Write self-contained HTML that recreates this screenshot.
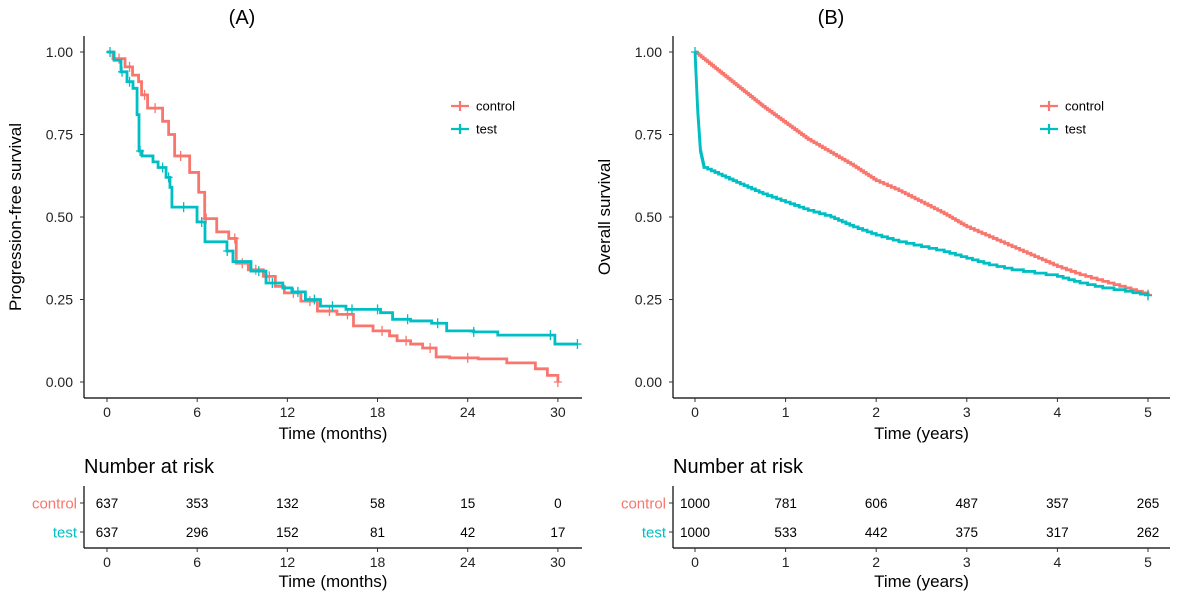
<!DOCTYPE html>
<html><head><meta charset="utf-8"><style>
body{margin:0;background:#fff;font-family:"Liberation Sans",sans-serif}
svg text{font-family:"Liberation Sans",sans-serif}
</style></head><body>
<svg id="c" width="1178" height="600" xmlns="http://www.w3.org/2000/svg"></svg>
<script>
const ctrlA_t=[0,0.4,1.2,1.7,2.1,2.3,2.7,3.7,4.1,4.5,5.5,6.1,6.5,7.3,8.1,8.6,9.4,10.4,11.2,11.8,12.9,14.0,15.3,16.4,17.7,18.8,19.3,20.2,21.0,21.9,22.8,24.7,26.6,28.5,29.3,30.0];
const ctrlA_s=[1,0.98,0.955,0.93,0.91,0.87,0.83,0.79,0.75,0.685,0.635,0.575,0.495,0.455,0.435,0.36,0.34,0.32,0.29,0.27,0.245,0.215,0.205,0.17,0.155,0.14,0.125,0.115,0.103,0.076,0.073,0.07,0.058,0.04,0.02,0.0];
const testA_t=[0,0.47,0.93,1.33,1.73,2.0,2.13,2.33,3.06,3.4,3.93,4.19,4.32,5.99,6.52,7.98,8.38,9.58,10.58,11.7,12.3,13.2,14.2,15.9,18.2,19.0,20.2,21.6,22.6,24.4,26.0,29.8];
const testA_s=[1,0.975,0.94,0.91,0.89,0.81,0.70,0.685,0.667,0.65,0.62,0.59,0.53,0.485,0.425,0.397,0.365,0.336,0.3,0.285,0.273,0.25,0.23,0.22,0.21,0.19,0.185,0.178,0.155,0.152,0.142,0.115];
const testA_end=31.3;
const ctrlA_cens=[0.8,1.5,2.5,3.2,4.9,6.6,8.5,9.0,9.9,10.8,12.4,13.5,14.8,16.0,18.3,19.9,21.5,24.0,30.0];
const testA_cens=[0.2,1.0,1.5,2.2,3.7,4.1,5.1,6.3,8.0,10.1,11.0,12.7,13.8,15.0,16.3,18.0,20.0,22.0,24.4,29.5,31.3];
const ctrlB_t=[0,0.25,0.5,0.75,1,1.25,1.5,1.75,2,2.25,2.5,2.75,3,3.25,3.5,3.75,4,4.25,4.5,4.75,5];
const ctrlB_s=[1,0.945,0.89,0.835,0.785,0.735,0.695,0.655,0.61,0.58,0.545,0.51,0.47,0.44,0.41,0.38,0.35,0.325,0.305,0.285,0.265];
const testB_t=[0,0.03,0.06,0.1,0.3,0.5,0.75,1,1.25,1.5,1.75,2,2.25,2.5,2.75,3,3.25,3.5,3.75,4,4.25,4.5,4.75,5];
const testB_s=[1,0.82,0.7,0.65,0.625,0.6,0.57,0.545,0.52,0.5,0.47,0.445,0.425,0.41,0.395,0.375,0.355,0.34,0.33,0.32,0.3,0.285,0.275,0.262];
const riskA_times=[0,6,12,18,24,30];
const riskA_ctrl=[637,353,132,58,15,0];
const riskA_test=[637,296,152,81,42,17];
const riskB_times=[0,1,2,3,4,5];
const riskB_ctrl=[1000,781,606,487,357,265];
const riskB_test=[1000,533,442,375,317,262];
const yTicks=[0,0.25,0.5,0.75,1];
const yTickLabels=["0.00","0.25","0.50","0.75","1.00"];

const RED="#F8766D",CY="#00BFC4";
const svg=document.getElementById('c');
function el(tag,attrs,txt){const e=document.createElementNS("http://www.w3.org/2000/svg",tag);for(const k in attrs)e.setAttribute(k,attrs[k]);if(txt!==undefined)e.textContent=txt;svg.appendChild(e);return e;}
const ys=v=>382-330*v;

function panel(p){
  const xs=v=>p.x0+v*p.k;
  let e;
  e=el('text',{x:p.titleX,y:24,'font-size':20,'text-anchor':'middle'},p.title);
  
  e=el('line',{x1:p.ax,y1:36,x2:p.ax,y2:398,stroke:'#000','stroke-width':1.2});
  
  e=el('line',{x1:p.ax,y1:398,x2:p.ax2,y2:398,stroke:'#000','stroke-width':1.2});
  
  yTicks.forEach((v,i)=>{
    el('line',{x1:p.ax-4,x2:p.ax,y1:ys(v),y2:ys(v),stroke:'#333'});
    e=el('text',{x:p.ax-11,y:ys(v)+5,'font-size':14,'text-anchor':'end',fill:'#222'},yTickLabels[i]);
    
  });
  p.ticks.forEach(v=>{
    el('line',{x1:xs(v),x2:xs(v),y1:398,y2:402,stroke:'#333'});
    e=el('text',{x:xs(v),y:417,'font-size':14,'text-anchor':'middle',fill:'#222'},String(v));
    
  });
  e=el('text',{x:(p.ax+p.ax2)/2,y:439,'font-size':17,'text-anchor':'middle'},p.xlab);
  
  e=el('text',{x:0,y:0,'font-size':17,'text-anchor':'middle',transform:`translate(${p.ylabX},217) rotate(-90)`},p.ylab);
  
  p.series.forEach(s=>{
    let d=`M${xs(s.t[0])},${ys(s.s[0])}`;
    if(s.step){
      for(let i=1;i<s.t.length;i++)d+=`H${xs(s.t[i])}V${ys(s.s[i])}`;
      if(s.end)d+=`H${xs(s.end)}`;
    }else{
      // fine jagged steps between readings
      for(let i=1;i<s.t.length;i++){
        const n=Math.max(1,Math.round((s.s[i-1]-s.s[i])/0.005));
        for(let j=1;j<=n;j++){
          const t=s.t[i-1]+(s.t[i]-s.t[i-1])*j/n, v=s.s[i-1]+(s.s[i]-s.s[i-1])*j/n;
          d+=`H${xs(t)}V${ys(v)}`;
        }
      }
    }
    e=el('path',{d,fill:'none',stroke:s.col,'stroke-width':2.8,'stroke-linejoin':'miter'});
    
    (s.cens||[]).forEach(c=>{
      let v=s.s[0];for(let i=0;i<s.t.length;i++)if(s.t[i]<=c)v=s.s[i];
      const cx=xs(c),cy=ys(v);
      e=el('path',{d:`M${cx-4},${cy}H${cx+4}M${cx},${cy-5}V${cy+5}`,stroke:s.col,'stroke-width':1.3});
      
    });
  });
  [['control',RED,106],['test',CY,129]].forEach(([n,c,y])=>{
    const lx=p.legX;
    e=el('path',{d:`M${lx},${y}H${lx+18}M${lx+9},${y-5}V${y+5}`,stroke:c,'stroke-width':2.2});
    
    e=el('text',{x:lx+25,y:y+4.5,'font-size':13},n);
    
  });
  e=el('text',{x:p.ax,y:473,'font-size':20},'Number at risk');
  
  el('line',{x1:p.ax,y1:486,x2:p.ax,y2:548,stroke:'#000','stroke-width':1.2});
  el('line',{x1:p.ax,y1:548,x2:p.ax2,y2:548,stroke:'#000','stroke-width':1.2});
  [['control',RED,503,p.rc],['test',CY,532,p.rt]].forEach(([n,c,y,vals])=>{
    el('line',{x1:p.ax-4,x2:p.ax,y1:y,y2:y,stroke:'#333'});
    e=el('text',{x:p.ax-7,y:y+5.5,'font-size':15,'text-anchor':'end',fill:c},n);
    
    vals.forEach((v,i)=>{
      e=el('text',{x:xs(p.rtimes[i]),y:y+5,'font-size':13.5,'text-anchor':'middle'},String(v));
      
    });
  });
  p.ticks.forEach(v=>{
    el('line',{x1:xs(v),x2:xs(v),y1:548,y2:552,stroke:'#333'});
    e=el('text',{x:xs(v),y:567,'font-size':14,'text-anchor':'middle',fill:'#222'},String(v));
    
  });
  e=el('text',{x:(p.ax+p.ax2)/2,y:587,'font-size':17,'text-anchor':'middle'},p.xlab);
  
}
panel({id:'panel-a',title:'(A)',titleX:242,x0:107,k:15.03,ax:84,ax2:582,ticks:riskA_times,xlab:'Time (months)',ylab:'Progression-free survival',ylabX:21,legX:451,
  rtimes:riskA_times,rc:riskA_ctrl,rt:riskA_test,
  series:[{name:'control',col:RED,step:true,t:ctrlA_t,s:ctrlA_s,cens:ctrlA_cens},{name:'test',col:CY,step:true,t:testA_t,s:testA_s,end:testA_end,cens:testA_cens}]});
panel({id:'panel-b',title:'(B)',titleX:831,x0:695,k:90.6,ax:673,ax2:1170,ticks:riskB_times,xlab:'Time (years)',ylab:'Overall survival',ylabX:610,legX:1040,
  rtimes:riskB_times,rc:riskB_ctrl,rt:riskB_test,
  series:[{name:'control',col:RED,step:false,t:ctrlB_t,s:ctrlB_s,cens:[5]},{name:'test',col:CY,step:false,t:testB_t,s:testB_s,cens:[0,5]}]});
</script>
</body></html>
